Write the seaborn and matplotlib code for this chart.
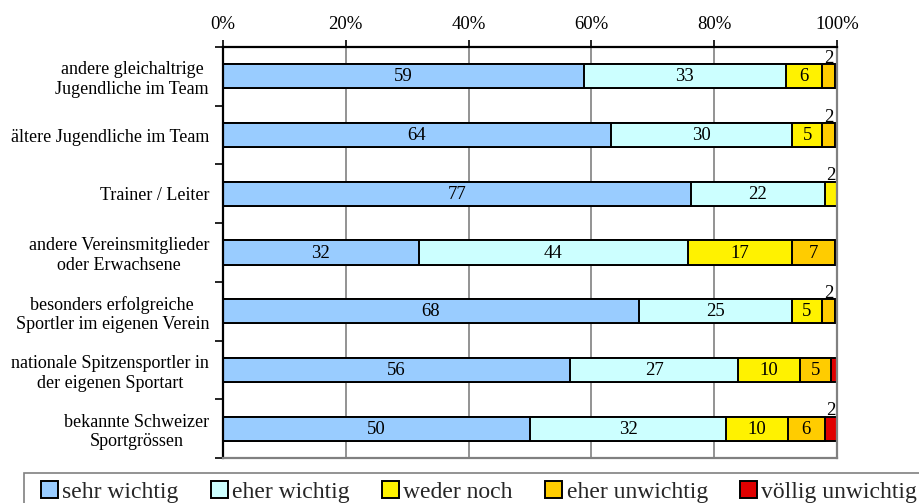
import matplotlib
matplotlib.use("Agg")
import matplotlib.pyplot as plt
from matplotlib.patches import Patch, Rectangle
import numpy as np
import pandas as pd
import seaborn as sns

# Survey categories (rows of the chart, top to bottom)
categories = [
    "andere gleichaltrige\nJugendliche im Team",
    "ältere Jugendliche im Team",
    "Trainer / Leiter",
    "andere Vereinsmitglieder\noder Erwachsene",
    "besonders erfolgreiche\nSportler im eigenen Verein",
    "nationale Spitzensportler in\nder eigenen Sportart",
    "bekannte Schweizer\nSportgrössen",
]
series_names = ["sehr wichtig", "eher wichtig", "weder noch",
                "eher unwichtig", "völlig unwichtig"]

# Answer shares in percent, one list per answer option
sehr_wichtig = [59, 64, 77, 32, 68, 56, 50]
eher_wichtig = [33, 30, 22, 44, 25, 27, 32]
weder_noch = [6, 5, 2, 17, 5, 10, 10]
eher_unwichtig = [2, 2, 0, 7, 2, 5, 6]
voellig_unwichtig = [0.4, 0.4, 0, 0.4, 0.4, 1, 2]

series_colors = ["#99CCFF", "#CCFFFF", "#FFF200", "#FFCC00", "#E00000"]
x_ticks = [0, 20, 40, 60, 80, 100]

sns.set_theme(style="white")
plt.rcParams["font.family"] = ["Liberation Serif", "DejaVu Serif"]

values = np.array([sehr_wichtig, eher_wichtig, weder_noch,
                   eher_unwichtig, voellig_unwichtig], dtype=float).T
shares = values / values.sum(axis=1, keepdims=True) * 100.0
cum = np.cumsum(shares, axis=1)

df = pd.DataFrame(cum, columns=series_names)
df["Kategorie"] = categories

W, H = 920, 503
fig = plt.figure(figsize=(W / 100, H / 100), dpi=100)
ax = fig.add_axes([223 / W, 1 - 458 / H, (837 - 223) / W, (458 - 47) / H])

# 100 % stacked bars: draw cumulative bars from the longest to the shortest
for k in reversed(range(len(series_names))):
    sns.barplot(data=df, x=series_names[k], y="Kategorie", order=categories,
                orient="h", color=series_colors[k], saturation=1,
                width=0.41, edgecolor="black", linewidth=1.4, ax=ax)

# Segment value labels
for i in range(len(categories)):
    left = 0.0
    for k in range(len(series_names)):
        v = values[i, k]
        w = shares[i, k]
        cx = left + w / 2
        if v >= 5:
            ax.text(cx, i + 0.01, f"{v:.0f}", ha="center", va="center",
                    fontsize=13.5, color="black")
        elif v >= 2:
            ax.text(cx, i - 0.23, f"{v:.0f}", ha="center", va="baseline",
                    fontsize=13.5, color="black")
        left += w

# X axis on top with percent labels
ax.set_xlim(0, 100)
ax.xaxis.set_ticks_position("top")
ax.xaxis.set_label_position("top")
ax.set_xticks(x_ticks)
ax.set_xticklabels([f"{t}%" for t in x_ticks])
ax.tick_params(axis="x", which="major", top=True, bottom=False, direction="out",
               length=5, width=1.2, color="black", pad=5, labelsize=13.5,
               labelcolor="black")
ax.set_xlabel("")
ax.set_ylabel("")

# Y axis: tick marks between categories, labels centred on the bars
n = len(categories)
ax.set_yticks(np.arange(-0.5, n, 1.0))
ax.set_yticklabels([])
ax.set_yticks(np.arange(n), minor=True)
ax.set_yticklabels(categories, minor=True)
ax.tick_params(axis="y", which="major", left=True, direction="out",
               length=6, width=1.2, color="black")
ax.tick_params(axis="y", which="minor", left=True, length=0, pad=10,
               labelsize=13, labelcolor="black")
for t in ax.get_yticklabels(minor=True):
    t.set_multialignment("center")
ax.set_ylim(n - 0.5, -0.5)

# Grid and frame
ax.grid(axis="x", color="#808080", linewidth=1.2)
ax.grid(axis="y", visible=False)
ax.set_axisbelow(True)
for side in ("top", "left"):
    ax.spines[side].set_color("black")
    ax.spines[side].set_linewidth(1.6)
for side in ("right", "bottom"):
    ax.spines[side].set_color("#808080")
    ax.spines[side].set_linewidth(1.6)

# Legend box along the bottom edge
fig.patches.append(Rectangle((24 / W, -0.2), 1.0, 0.2 + 1 - 473 / H,
                             transform=fig.transFigure, fill=False,
                             edgecolor="#808080", linewidth=1.2))
handles = [Patch(facecolor=c, edgecolor="black", linewidth=1.4, label=name)
           for c, name in zip(series_colors, series_names)]
fig.legend(handles=handles, loc="center left",
           bbox_to_anchor=(41 / W, 1 - 492 / H), ncol=5, frameon=False,
           fontsize=17, handlelength=0.7, handleheight=0.7,
           handletextpad=0.2, columnspacing=1.37, borderpad=0,
           borderaxespad=0)

fig.savefig("out.png", dpi=100)
